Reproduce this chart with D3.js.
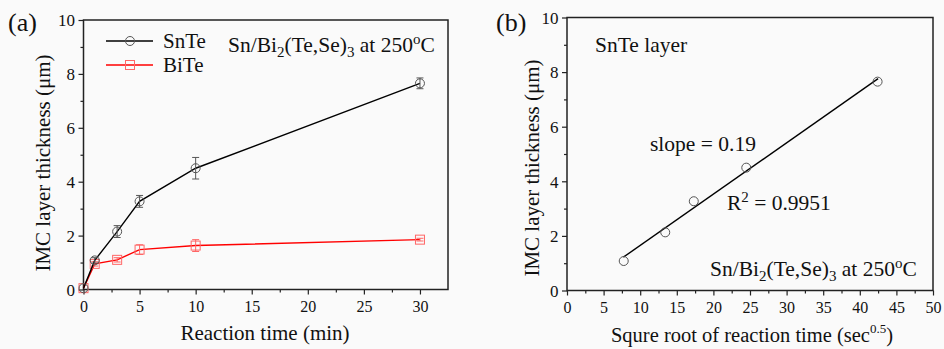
<!DOCTYPE html>
<html>
<head>
<meta charset="utf-8">
<script src="https://cdn.jsdelivr.net/npm/d3@7"></script>
<style>
  body { margin: 0; background: #fafafa; }
  svg { display: block; font-family: "Liberation Serif", "Times New Roman", serif; }
  text { font-family: "Liberation Serif", "Times New Roman", serif; fill: #111; }
</style>
</head>
<body>
<svg id="chart" width="944" height="349"></svg>
<script>
// panel (a): thickness vs reaction time
const timeMin = [0, 1, 3, 5, 10, 30];
const snte = [0.05, 1.08, 2.15, 3.27, 4.5, 7.65];
const snteErr = [0, 0.1, 0.22, 0.22, 0.4, 0.2];
const bite = [0.05, 0.95, 1.1, 1.48, 1.63, 1.85];
const biteErr = [0, 0.08, 0.08, 0.18, 0.22, 0.05];

// panel (b): SnTe thickness vs sqrt(time in sec)
const sqrtTime = [7.75, 13.42, 17.32, 24.49, 42.43];
const snteB = [1.08, 2.13, 3.27, 4.5, 7.65];
const fitX = [7.7, 42.5];
const fitY = [1.22, 7.76];

const xTicksA = [0, 5, 10, 15, 20, 25, 30];
const xTicksB = [0, 5, 10, 15, 20, 25, 30, 35, 40, 45, 50];
const yTicks = [0, 2, 4, 6, 8, 10];

const svg = d3.select('#chart');

function frame(x, y, xt, xMinor, yMinor) {
  const g = svg.append('g');
  const [x0, x1] = x.range(), [y0, y1] = y.range();

  // minor ticks
  g.append('g').attr('transform', 'translate(0,' + y0 + ')')
    .call(d3.axisBottom(x).tickValues(xMinor).tickSize(3).tickFormat(''));
  g.append('g').attr('transform', 'translate(' + x0 + ',0)')
    .call(d3.axisLeft(y).tickValues(yMinor).tickSize(3).tickFormat(''));

  const gx = g.append('g').attr('transform', 'translate(0,' + y0 + ')')
    .call(d3.axisBottom(x).tickValues(xt).tickSize(5).tickPadding(6).tickSizeOuter(0));
  gx.selectAll('text').attr('font-size', 16);
  const gy = g.append('g').attr('transform', 'translate(' + x0 + ',0)')
    .call(d3.axisLeft(y).tickValues(yTicks).tickSize(5).tickPadding(3.5).tickSizeOuter(0));
  gy.selectAll('text').attr('font-size', 17).attr('dy', '0.34em');

  g.selectAll('text').attr('font-family', 'Liberation Serif').attr('fill', '#111');
  g.selectAll('line').attr('stroke', '#222').attr('stroke-width', 1.2);
  g.selectAll('.domain').remove();

  g.append('rect').attr('x', x0).attr('y', y1)
    .attr('width', x1 - x0).attr('height', y0 - y1)
    .attr('fill', 'none').attr('stroke', '#222').attr('stroke-width', 1.5);
  return g;
}

function drawMark(cx, cy, mark, c) {
  if (mark === 'circle') {
    svg.append('circle').attr('cx', cx).attr('cy', cy).attr('r', 4.5)
      .attr('fill', 'none').attr('stroke', c).attr('stroke-width', 1);
  } else {
    svg.append('rect').attr('x', cx - 4.5).attr('y', cy - 4.5).attr('width', 9).attr('height', 9)
      .attr('fill', 'none').attr('stroke', c).attr('stroke-width', 1);
  }
}

function series(x, y, xs, ys, errs, color, mark, markColor) {
  const pts = xs.map((v, i) => ({x: v, y: ys[i], e: errs ? errs[i] : 0}));
  const line = d3.line().x(d => x(d.x)).y(d => y(d.y));
  svg.append('path').datum(pts).attr('d', line)
    .attr('fill', 'none').attr('stroke', color).attr('stroke-width', 1.4);
  const g = svg.append('g');
  pts.filter(d => d.e > 0).forEach(d => {
    const cx = x(d.x);
    g.append('line').attr('x1', cx).attr('x2', cx).attr('y1', y(d.y - d.e)).attr('y2', y(d.y + d.e));
    [d.y - d.e, d.y + d.e].forEach(v => {
      g.append('line').attr('x1', cx - 3.5).attr('x2', cx + 3.5).attr('y1', y(v)).attr('y2', y(v));
    });
  });
  g.selectAll('line').attr('stroke', markColor).attr('stroke-width', 1);
  pts.forEach(d => drawMark(x(d.x), y(d.y), mark, markColor));
}

function condition(x, y) {
  const t = svg.append('text').attr('x', x).attr('y', y).attr('font-size', 21.5);
  t.append('tspan').text('Sn/Bi');
  t.append('tspan').attr('font-size', 15).attr('dy', 5).text('2');
  t.append('tspan').attr('dy', -5).text('(Te,Se)');
  t.append('tspan').attr('font-size', 15).attr('dy', 5).text('3');
  t.append('tspan').attr('dy', -5).text(' at 250');
  t.append('tspan').attr('font-size', 15).attr('dy', -8).text('o');
  t.append('tspan').attr('dy', 8).text('C');
}

// ---------- panel (a)
const xa = d3.scaleLinear().domain([0, 32.5]).range([83.5, 448]);
const ya = d3.scaleLinear().domain([0, 10]).range([289.5, 20]);
frame(xa, ya, xTicksA, d3.range(2.5, 32.5, 5), d3.range(1, 10, 2));

series(xa, ya, timeMin, bite, biteErr, '#ff0000', 'square', '#ff6666');
series(xa, ya, timeMin, snte, snteErr, '#000', 'circle', '#555');

// legend
[['SnTe', '#000', 'circle', '#555', 41], ['BiTe', '#ff0000', 'square', '#ff6666', 65]].forEach(l => {
  svg.append('line').attr('x1', 106).attr('x2', 153).attr('y1', l[4]).attr('y2', l[4])
    .attr('stroke', l[1]).attr('stroke-width', 1.4);
  drawMark(130, l[4], l[2], l[3]);
  svg.append('text').attr('x', 163).attr('y', l[4] + 7).attr('font-size', 21).text(l[0]);
});

condition(228, 52);

svg.append('text').attr('x', 8).attr('y', 31).attr('font-size', 26).text('(a)');
svg.append('text').attr('x', 265).attr('y', 340).attr('text-anchor', 'middle')
  .attr('font-size', 21).text('Reaction time (min)');
svg.append('text').attr('transform', 'translate(50,163) rotate(-90)').attr('text-anchor', 'middle')
  .attr('font-size', 21).text('IMC layer thickness (\u03bcm)');

// ---------- panel (b)
const xb = d3.scaleLinear().domain([0, 50]).range([567, 933]);
const yb = d3.scaleLinear().domain([0, 10]).range([290.5, 17.5]);
frame(xb, yb, xTicksB, d3.range(2.5, 50, 5), d3.range(1, 10, 2));

svg.append('path').datum(fitX.map((v, i) => [v, fitY[i]]))
  .attr('d', d3.line().x(d => xb(d[0])).y(d => yb(d[1])))
  .attr('fill', 'none').attr('stroke', '#000').attr('stroke-width', 1.4);
sqrtTime.forEach((v, i) => drawMark(xb(v), yb(snteB[i]), 'circle', '#555'));

svg.append('text').attr('x', 496).attr('y', 31).attr('font-size', 26).text('(b)');
svg.append('text').attr('x', 595).attr('y', 52).attr('font-size', 21.5).text('SnTe layer');
svg.append('text').attr('x', 650).attr('y', 151).attr('font-size', 21.5).text('slope = 0.19');
const r2 = svg.append('text').attr('x', 727).attr('y', 210).attr('font-size', 21.5);
r2.append('tspan').text('R');
r2.append('tspan').attr('font-size', 15).attr('dy', -8).text('2');
r2.append('tspan').attr('dy', 8).text(' = 0.9951');
condition(710, 276);

const xt = svg.append('text').attr('x', 752).attr('y', 342).attr('text-anchor', 'middle').attr('font-size', 20.5);
xt.append('tspan').text('Squre root of reaction time (sec');
xt.append('tspan').attr('font-size', 13).attr('dy', -9).text('0.5');
xt.append('tspan').attr('dy', 9).text(')');
svg.append('text').attr('transform', 'translate(539,168) rotate(-90)').attr('text-anchor', 'middle')
  .attr('font-size', 21).text('IMC layer thickness (\u03bcm)');
</script>
</body>
</html>
